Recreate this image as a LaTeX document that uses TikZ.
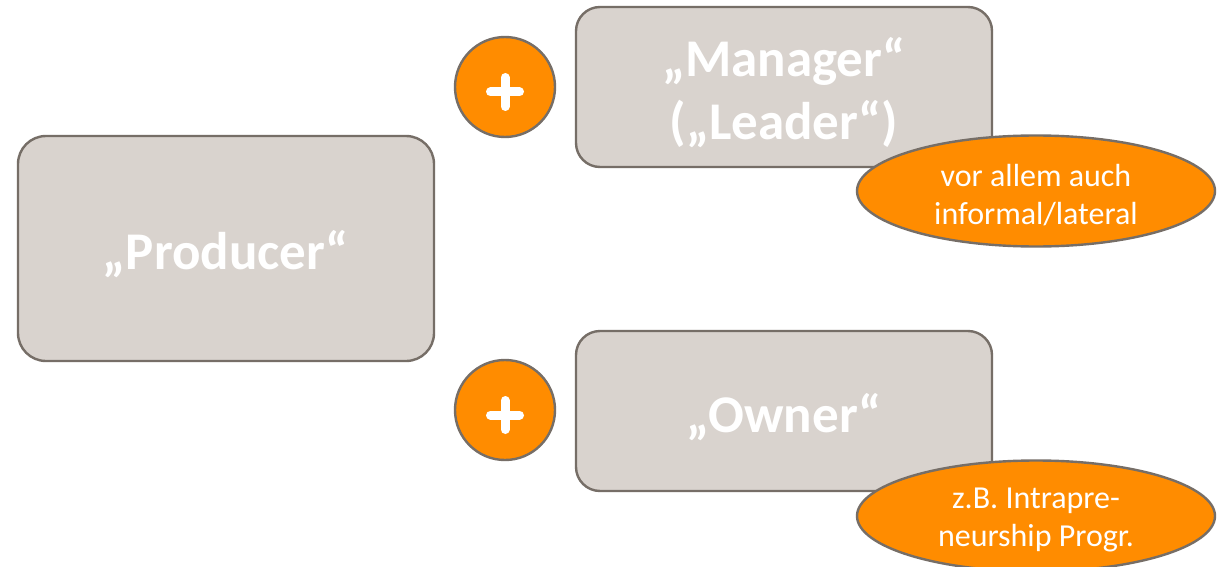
\documentclass[tikz,border=0pt]{standalone}
\usepackage{fontspec}
\setmainfont{Carlito}
\usetikzlibrary{shapes.geometric}
\definecolor{boxfill}{HTML}{D9D3CE}
\definecolor{boxline}{HTML}{766E67}
\definecolor{orangefill}{HTML}{FF8C00}
\tikzset{
  rolebox/.style={draw=boxline, line width=2.4pt, fill=boxfill, rounded corners=28pt, inner sep=0pt},
  roletext/.style={text=white, font=\fontsize{53}{63}\selectfont\bfseries, align=center, inner sep=0pt},
  plusdisc/.style={circle, draw=boxline, line width=2.4pt, fill=orangefill, minimum size=100pt, inner sep=0pt},
  plusbar/.style={white, line width=9pt, line cap=round},
  notebubble/.style={ellipse, draw=boxline, line width=2.4pt, fill=orangefill, minimum width=358pt, minimum height=111pt, inner sep=0pt},
  notetext/.style={text=white, font=\fontsize{32}{38.5}\selectfont, align=center, inner sep=0pt}
}
\begin{document}
\begin{tikzpicture}[x=1pt,y=-1pt]
\clip (0,0) rectangle (1225,567);
\fill[white] (0,0) rectangle (1225,567);
% Producer
\node[rolebox, minimum width=416pt, minimum height=225pt] (prod) at (226,248.5) {};
\node[roletext] (prodt) at (226,254) {„Producer“};
% plus discs
\node[plusdisc] (plus1) at (505,87) {};
\coordinate (p1) at ([yshift=-5pt]plus1.center);
\draw[plusbar] ([yshift=-14.5pt]p1) -- ([yshift=14.5pt]p1);
\draw[plusbar] ([xshift=-14.5pt]p1) -- ([xshift=14.5pt]p1);
\node[plusdisc] (plus2) at (505,410) {};
\coordinate (p2) at ([yshift=-5pt]plus2.center);
\draw[plusbar] ([yshift=-14.5pt]p2) -- ([yshift=14.5pt]p2);
\draw[plusbar] ([xshift=-14.5pt]p2) -- ([xshift=14.5pt]p2);
% Manager
\node[rolebox, rounded corners=24pt, minimum width=416pt, minimum height=160pt] (mgr) at (784,87) {};
\node[roletext] (mgrt) at (784,93) {„Manager“\\(„Leader“)};
% Owner
\node[rolebox, rounded corners=24pt, minimum width=416pt, minimum height=160pt] (own) at (784,411) {};
\node[roletext] (ownt) at (784,417) {„Owner“};
% notes
\node[notebubble] (note1) at (1036,191) {};
\node[notetext] (note1t) at (1036,195) {vor allem auch\\informal/lateral};
\node[notebubble] (note2) at (1036,516) {};
\node[notetext] (note2t) at (1036,520) {z.B. Intrapre-\\neurship Progr.};
\end{tikzpicture}
\end{document}
